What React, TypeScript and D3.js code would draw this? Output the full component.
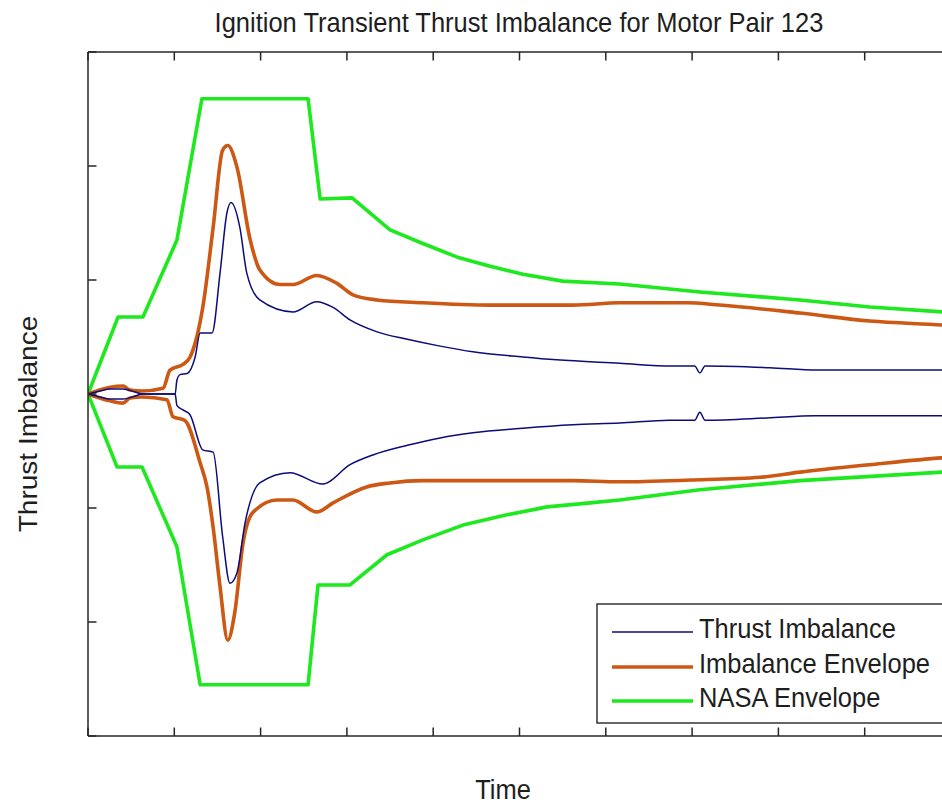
import React from "react";
import * as d3 from "d3";

// Time axis (ms) and imbalance axis (normalized units)
const xTicks = [0, 100, 200, 300, 400, 500, 600, 700, 800, 900, 1000];
const yTicks = [-3, -2, -1, 0, 1, 2, 3];

// Measured thrust imbalance, upper and lower traces
const thrustUpperT = [0, 14, 25.5, 40.6, 54.5, 62.6, 101, 103, 106.6, 115, 124, 130, 143.7, 153, 161, 165.7, 176, 184, 199, 237.5, 265, 284, 303.6, 335, 370, 408, 446, 504, 543, 616, 677, 703, 709, 715, 790, 845, 990, 1000];
const thrustUpperV = [0, 0.026, 0.044, 0.044, 0.018, 0, 0, 0.12, 0.17, 0.18, 0.32, 0.535, 0.535, 1.06, 1.59, 1.68, 1.46, 1.06, 0.825, 0.72, 0.81, 0.76, 0.65, 0.545, 0.48, 0.42, 0.37, 0.325, 0.3, 0.27, 0.245, 0.245, 0.185, 0.245, 0.23, 0.21, 0.21, 0.21];
const thrustLowerT = [0, 14, 25.5, 40.6, 54.5, 62.6, 101, 103, 110, 118, 133, 145, 156, 164.5, 172.6, 182, 199, 234, 272, 303.6, 330, 370, 408, 446, 504, 562, 616, 674, 703, 709, 715, 787, 842, 990, 1000];
const thrustLowerV = [0, -0.026, -0.044, -0.044, -0.018, 0, 0, -0.1, -0.14, -0.18, -0.49, -0.51, -1.25, -1.66, -1.57, -1.13, -0.78, -0.69, -0.79, -0.62, -0.535, -0.45, -0.385, -0.34, -0.3, -0.27, -0.255, -0.23, -0.23, -0.16, -0.23, -0.21, -0.19, -0.19, -0.19];

// Imbalance envelope, upper and lower
const envUpperT = [0, 25.5, 40.6, 48.7, 62.6, 87, 95, 110, 118, 133, 145, 156, 162, 172.6, 188, 199, 222.5, 237.5, 265, 288.5, 307, 335, 388, 466, 562, 616, 694, 732, 825, 906, 990, 1000];
const envUpperV = [0, 0.06, 0.07, 0.035, 0.026, 0.05, 0.21, 0.26, 0.32, 0.76, 1.46, 2.14, 2.18, 1.99, 1.35, 1.09, 0.96, 0.96, 1.04, 0.97, 0.87, 0.825, 0.8, 0.78, 0.78, 0.8, 0.8, 0.78, 0.71, 0.64, 0.605, 0.6];
const envLowerT = [0, 25.5, 40.6, 48.7, 62.6, 91.5, 98.5, 112, 130, 138, 145, 153, 162, 170, 179.6, 191, 219, 237.5, 265, 284, 323, 350, 388, 562, 616, 698, 779, 825, 906, 990, 1000];
const envLowerV = [0, -0.06, -0.08, -0.035, -0.026, -0.05, -0.2, -0.23, -0.605, -0.82, -1.17, -1.69, -2.16, -1.92, -1.31, -1.04, -0.93, -0.93, -1.035, -0.955, -0.815, -0.78, -0.76, -0.76, -0.77, -0.755, -0.73, -0.685, -0.62, -0.56, -0.555];

// NASA allowable envelope, upper and lower
const nasaUpperT = [0, 34.8, 63.7, 103, 132, 255, 269, 306, 350, 388, 428, 466, 504, 550, 616, 709, 825, 906, 990, 1000];
const nasaUpperV = [0, 0.675, 0.675, 1.35, 2.59, 2.59, 1.71, 1.72, 1.44, 1.32, 1.2, 1.12, 1.05, 0.99, 0.965, 0.895, 0.825, 0.763, 0.72, 0.71];
const nasaLowerT = [0, 33.6, 62.6, 103, 130, 255, 266.5, 303.6, 346.5, 388, 434.5, 485.5, 532, 582, 616, 709, 825, 990, 1000];
const nasaLowerV = [0, -0.64, -0.64, -1.34, -2.55, -2.55, -1.675, -1.675, -1.41, -1.28, -1.15, -1.06, -0.99, -0.955, -0.93, -0.84, -0.76, -0.685, -0.68];

const legendLabels = ["Thrust Imbalance", "Imbalance Envelope", "NASA Envelope"];

const W = 942;
const H = 806;
const left = 88;
const right = 951;
const top = 52;
const bottom = 736;

const BLUE = "#0c0c7a";
const ORANGE = "#cc5814";
const GREEN = "#1ee81e";
const AXIS = "#262626";
const FONT = "'Liberation Sans', Arial, sans-serif";

const x = d3.scaleLinear().domain([0, 1000]).range([left, right]);
const y = d3.scaleLinear().domain([-3, 3]).range([bottom, top]);

const straight = d3
  .line<[number, number]>()
  .x((d) => x(d[0]))
  .y((d) => y(d[1]));

const smooth = d3
  .line<[number, number]>()
  .x((d) => x(d[0]))
  .y((d) => y(d[1]))
  .curve(d3.curveMonotoneX);

const zipPts = (t: number[], v: number[]): [number, number][] =>
  t.map((tt, i) => [tt, v[i]]);

const series = [
  { t: nasaUpperT, v: nasaUpperV, color: GREEN, w: 3.6, gen: straight },
  { t: nasaLowerT, v: nasaLowerV, color: GREEN, w: 3.6, gen: straight },
  { t: envUpperT, v: envUpperV, color: ORANGE, w: 3.6, gen: smooth },
  { t: envLowerT, v: envLowerV, color: ORANGE, w: 3.6, gen: smooth },
  { t: thrustUpperT, v: thrustUpperV, color: BLUE, w: 1.5, gen: smooth },
  { t: thrustLowerT, v: thrustLowerV, color: BLUE, w: 1.5, gen: smooth },
];

const legendStyles = [
  { color: BLUE, w: 1.5 },
  { color: ORANGE, w: 3.6 },
  { color: GREEN, w: 3.6 },
];

export default function App() {
  const tickLen = 8.5;
  const legX = 597;
  const legY = 604;
  const legH = 119;
  const rowY = [632, 667, 701];
  return (
    <svg
      width={W}
      height={H}
      style={{ position: "absolute", left: 0, top: 0, background: "#fff" }}
      fontFamily={FONT}
    >
      <defs>
        <clipPath id="plotArea">
          <rect x={left} y={top} width={right - left} height={bottom - top} />
        </clipPath>
      </defs>
      <rect x={0} y={0} width={W} height={H} fill="#fff" />

      {/* data */}
      <g clipPath="url(#plotArea)" fill="none" strokeLinejoin="round" strokeLinecap="round">
        {series.map((s, i) => (
          <path key={i} d={s.gen(zipPts(s.t, s.v)) || ""} stroke={s.color} strokeWidth={s.w} />
        ))}
      </g>

      {/* axes box and ticks */}
      <g stroke={AXIS} strokeWidth={1.5} fill="none">
        <line x1={left} x2={right} y1={top} y2={top} />
        <line x1={left} x2={right} y1={bottom} y2={bottom} />
        <line x1={left} x2={left} y1={top} y2={bottom} />
        <line x1={right} x2={right} y1={top} y2={bottom} />
        {xTicks.map((t) => (
          <g key={"x" + t}>
            <line x1={x(t)} x2={x(t)} y1={bottom} y2={bottom - tickLen} />
            <line x1={x(t)} x2={x(t)} y1={top} y2={top + tickLen} />
          </g>
        ))}
        {yTicks.map((v) => (
          <g key={"y" + v}>
            <line x1={left} x2={left + tickLen} y1={y(v)} y2={y(v)} />
            <line x1={right} x2={right - tickLen} y1={y(v)} y2={y(v)} />
          </g>
        ))}
      </g>

      {/* legend */}
      <rect x={legX} y={legY} width={380} height={legH} fill="#fff" stroke={AXIS} strokeWidth={1.4} />
      {legendLabels.map((lab, i) => (
        <g key={lab}>
          <line x1={612} x2={693} y1={rowY[i]} y2={rowY[i]} stroke={legendStyles[i].color} strokeWidth={legendStyles[i].w} />
          <text
            transform={`translate(699,${rowY[i] + 5.5}) scale(1,1.1)`}
            fontSize={25.5}
            fill="#1e1e1e"
          >
            {lab}
          </text>
        </g>
      ))}

      {/* titles */}
      <text transform="translate(519,32) scale(1,1.1)" textAnchor="middle" fontSize={25.5} fill="#1e1e1e">
        Ignition Transient Thrust Imbalance for Motor Pair 123
      </text>
      <text transform="translate(503,799) scale(1,1.05)" textAnchor="middle" fontSize={25.5} fill="#1e1e1e">
        Time
      </text>
      <text transform="translate(37,424) scale(1,1.1) rotate(-90)" textAnchor="middle" fontSize={25.5} fill="#1e1e1e">
        Thrust Imbalance
      </text>
    </svg>
  );
}
